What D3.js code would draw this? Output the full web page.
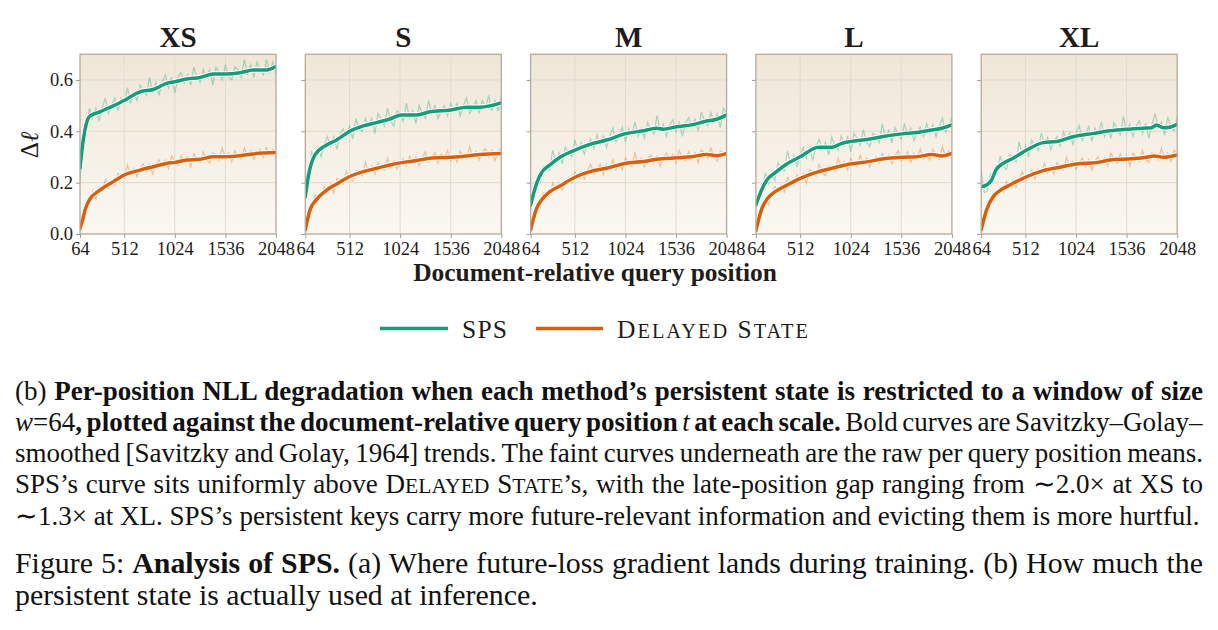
<!DOCTYPE html>
<html><head><meta charset="utf-8">
<script src="https://cdn.jsdelivr.net/npm/d3@7"></script>
<style>
body{margin:0;background:#fff;}
svg{display:block;font-family:"Liberation Serif","Times New Roman",serif;}
</style></head>
<body>
<script>
// ---------- DATA ----------
const panels = ["XS", "S", "M", "L", "XL"];
const seriesNames = ["SPS", "Delayed State"];
const xTicks = [64, 512, 1024, 1536, 2048];
const yTicks = [0.0, 0.2, 0.4, 0.6];
const rawX = d3.range(64, 2049, 32); // query positions of the raw means shown

// smoothed (Savitzky–Golay) trends: positions and values
const xsSpsX = [64, 97, 125, 158, 266, 401, 519, 671, 806, 941, 1024, 1144, 1279, 1413, 1536, 1684, 1819, 1954, 2048];
const xsSpsY = [0.257, 0.366, 0.425, 0.457, 0.476, 0.499, 0.522, 0.554, 0.563, 0.587, 0.593, 0.604, 0.610, 0.623, 0.623, 0.628, 0.639, 0.639, 0.652];
const xsDelX = [64, 91, 115, 158, 266, 401, 512, 671, 806, 941, 1024, 1144, 1279, 1413, 1536, 1684, 1819, 2048];
const xsDelY = [0.022, 0.055, 0.093, 0.132, 0.171, 0.204, 0.230, 0.249, 0.262, 0.275, 0.279, 0.288, 0.291, 0.301, 0.301, 0.305, 0.312, 0.317];

const sSpsX = [64, 100, 162, 280, 381, 509, 651, 786, 921, 1039, 1191, 1326, 1535, 1697, 1832, 1933, 2048];
const sSpsY = [0.145, 0.235, 0.308, 0.347, 0.366, 0.399, 0.421, 0.434, 0.448, 0.464, 0.464, 0.476, 0.483, 0.494, 0.494, 0.499, 0.512];
const sDelX = [64, 111, 179, 280, 381, 509, 651, 786, 921, 1039, 1191, 1326, 1535, 1697, 1832, 2048];
const sDelY = [0.016, 0.093, 0.135, 0.171, 0.195, 0.223, 0.243, 0.256, 0.269, 0.278, 0.286, 0.295, 0.299, 0.304, 0.310, 0.314];

const mSpsX = [64, 125, 175, 260, 361, 513, 665, 833, 1019, 1204, 1339, 1407, 1542, 1694, 1846, 1947, 2048];
const mSpsY = [0.113, 0.197, 0.239, 0.269, 0.299, 0.327, 0.349, 0.366, 0.390, 0.402, 0.412, 0.408, 0.418, 0.425, 0.440, 0.447, 0.464];
const mDelX = [64, 125, 175, 260, 361, 513, 665, 833, 1019, 1204, 1339, 1542, 1694, 1846, 1947, 2048];
const mDelY = [0.016, 0.100, 0.132, 0.165, 0.187, 0.221, 0.243, 0.256, 0.275, 0.282, 0.291, 0.297, 0.301, 0.310, 0.305, 0.314];

const lSpsX = [64, 125, 175, 260, 361, 513, 699, 833, 935, 1019, 1204, 1339, 1542, 1694, 1846, 1947, 2048];
const lSpsY = [0.113, 0.174, 0.210, 0.239, 0.269, 0.301, 0.338, 0.338, 0.353, 0.360, 0.369, 0.379, 0.390, 0.395, 0.405, 0.412, 0.425];
const lDelX = [64, 125, 175, 260, 361, 513, 699, 833, 1019, 1204, 1339, 1542, 1694, 1846, 1947, 2048];
const lDelY = [0.013, 0.100, 0.135, 0.165, 0.187, 0.217, 0.243, 0.256, 0.273, 0.282, 0.292, 0.299, 0.301, 0.310, 0.304, 0.314];

const xlSpsX = [64, 118, 169, 212, 287, 388, 523, 692, 827, 995, 1198, 1366, 1535, 1703, 1788, 1838, 1906, 1973, 2048];
const xlSpsY = [0.184, 0.191, 0.210, 0.249, 0.275, 0.295, 0.327, 0.356, 0.360, 0.379, 0.392, 0.402, 0.408, 0.412, 0.414, 0.425, 0.414, 0.416, 0.427];
const xlDelX = [64, 118, 185, 253, 354, 523, 692, 861, 1029, 1231, 1366, 1535, 1703, 1822, 1906, 2048];
const xlDelY = [0.016, 0.093, 0.145, 0.169, 0.191, 0.223, 0.247, 0.260, 0.273, 0.278, 0.288, 0.292, 0.297, 0.304, 0.299, 0.308];

// raw per-position means (faint), one value per rawX position
const xsSpsRaw = [0.20,0.38,0.41,0.49,0.45,0.49,0.44,0.49,0.53,0.47, 0.50,0.53,0.48,0.53,0.51,0.57,0.51,0.55,0.52,0.58, 0.56,0.54,0.61,0.55,0.59,0.54,0.59,0.62,0.57,0.61, 0.55,0.61,0.63,0.59,0.62,0.58,0.65,0.61,0.59,0.64, 0.61,0.64,0.58,0.65,0.63,0.60,0.66,0.61,0.60,0.65, 0.64,0.61,0.68,0.62,0.66,0.61,0.67,0.64,0.62,0.68, 0.63,0.67,0.62];
const xsDelRaw = [0.029,0.090,0.091,0.133,0.166,0.135,0.182,0.169,0.212,0.178, 0.207,0.187,0.236,0.223,0.216,0.269,0.231,0.255,0.224,0.256, 0.273,0.241,0.272,0.233,0.271,0.289,0.264,0.288,0.255,0.305, 0.279,0.267,0.305,0.279,0.302,0.261,0.311,0.297,0.277,0.321, 0.289,0.277,0.315,0.308,0.287,0.336,0.294,0.316,0.282,0.324, 0.304,0.291,0.335,0.302,0.325,0.291,0.313,0.328,0.300,0.336, 0.309,0.330,0.296];
const sSpsRaw = [0.15,0.21,0.32,0.30,0.34,0.30,0.35,0.38,0.34,0.38, 0.33,0.39,0.41,0.38,0.42,0.37,0.45,0.41,0.40,0.45, 0.42,0.45,0.39,0.47,0.45,0.42,0.49,0.44,0.42,0.48, 0.47,0.44,0.51,0.45,0.48,0.43,0.50,0.47,0.45,0.52, 0.47,0.50,0.45,0.48,0.50,0.46,0.51,0.48,0.51,0.46, 0.50,0.53,0.47,0.49,0.52,0.47,0.52,0.49,0.54,0.48, 0.52,0.48,0.54];
const sDelRaw = [0.009,0.082,0.082,0.151,0.140,0.137,0.184,0.166,0.195,0.160, 0.217,0.210,0.196,0.245,0.216,0.207,0.246,0.244,0.227,0.280, 0.241,0.265,0.233,0.278,0.260,0.249,0.294,0.262,0.286,0.253, 0.277,0.293,0.266,0.303,0.277,0.300,0.267,0.297,0.320,0.280, 0.295,0.317,0.276,0.311,0.291,0.326,0.285,0.307,0.280,0.323, 0.303,0.290,0.340,0.300,0.322,0.289,0.317,0.332,0.298,0.326, 0.285,0.320,0.335];
const mSpsRaw = [0.093,0.197,0.190,0.197,0.265,0.266,0.248,0.327,0.277,0.316, 0.273,0.339,0.315,0.301,0.367,0.321,0.356,0.311,0.345,0.370, 0.333,0.386,0.349,0.383,0.336,0.380,0.414,0.358,0.382,0.416, 0.360,0.412,0.384,0.437,0.379,0.411,0.373,0.435,0.408,0.390, 0.462,0.400,0.428,0.380,0.423,0.445,0.398,0.439,0.380,0.432, 0.454,0.415,0.448,0.402,0.475,0.438,0.421,0.473,0.435,0.468, 0.414,0.489,0.474];
const mDelRaw = [0.020,0.053,0.116,0.102,0.160,0.151,0.149,0.199,0.171,0.199, 0.171,0.199,0.220,0.199,0.242,0.218,0.244,0.214,0.246,0.271, 0.232,0.248,0.272,0.232,0.270,0.252,0.290,0.251,0.276,0.251, 0.296,0.276,0.263,0.314,0.273,0.295,0.262,0.292,0.308,0.275, 0.305,0.264,0.300,0.315,0.288,0.310,0.276,0.326,0.298,0.285, 0.321,0.294,0.317,0.277,0.328,0.316,0.296,0.336,0.299,0.284, 0.322,0.318,0.300];
const lSpsRaw = [0.113,0.165,0.166,0.239,0.196,0.237,0.208,0.277,0.257,0.246, 0.324,0.270,0.307,0.264,0.311,0.337,0.294,0.340,0.286,0.343, 0.368,0.328,0.358,0.308,0.378,0.343,0.327,0.382,0.345,0.378, 0.320,0.392,0.374,0.345,0.407,0.358,0.340,0.392,0.384,0.357, 0.429,0.371,0.403,0.354,0.416,0.388,0.370,0.431,0.382,0.413, 0.364,0.395,0.417,0.379,0.431,0.393,0.426,0.378,0.420,0.452, 0.397,0.421,0.455];
const lDelRaw = [0.020,0.079,0.089,0.140,0.114,0.160,0.185,0.164,0.192,0.164, 0.219,0.197,0.189,0.231,0.210,0.235,0.198,0.251,0.242,0.225, 0.271,0.239,0.227,0.265,0.261,0.243,0.295,0.257,0.281,0.249, 0.294,0.275,0.262,0.306,0.272,0.295,0.262,0.285,0.301,0.275, 0.313,0.286,0.308,0.274,0.303,0.325,0.285,0.299,0.321,0.279, 0.315,0.294,0.331,0.291,0.314,0.288,0.330,0.307,0.291,0.340, 0.301,0.325,0.293];
const xlSpsRaw = [0.250,0.160,0.170,0.236,0.241,0.233,0.304,0.265,0.251,0.308, 0.304,0.282,0.359,0.307,0.344,0.301,0.366,0.342,0.327,0.393, 0.347,0.377,0.328,0.359,0.380,0.344,0.398,0.362,0.395,0.349, 0.391,0.423,0.365,0.387,0.419,0.361,0.413,0.385,0.437,0.379, 0.411,0.372,0.434,0.405,0.386,0.457,0.398,0.429,0.380,0.420, 0.441,0.392,0.432,0.373,0.425,0.470,0.413,0.437,0.384,0.455, 0.418,0.402,0.457];
const xlDelRaw = [0.010,0.090,0.094,0.140,0.126,0.158,0.184,0.163,0.205,0.184, 0.211,0.182,0.216,0.243,0.207,0.226,0.251,0.214,0.254,0.237, 0.276,0.236,0.260,0.234,0.279,0.260,0.249,0.300,0.261,0.284, 0.252,0.281,0.295,0.261,0.290,0.249,0.285,0.300,0.274,0.297, 0.265,0.316,0.289,0.276,0.312,0.284,0.306,0.265,0.315,0.302, 0.282,0.325,0.291,0.279,0.316,0.311,0.288,0.335,0.293,0.316, 0.283,0.327,0.308];

// ---------- BUILD TABLE ----------
const zipXY = (xs, ys) => xs.map((x, i) => [x, ys[i]]);
const panelData = [
  {name: panels[0], sps: {s: zipXY(xsSpsX, xsSpsY), r: zipXY(rawX, xsSpsRaw)}, del: {s: zipXY(xsDelX, xsDelY), r: zipXY(rawX, xsDelRaw)}},
  {name: panels[1], sps: {s: zipXY(sSpsX, sSpsY),   r: zipXY(rawX, sSpsRaw)},  del: {s: zipXY(sDelX, sDelY),   r: zipXY(rawX, sDelRaw)}},
  {name: panels[2], sps: {s: zipXY(mSpsX, mSpsY),   r: zipXY(rawX, mSpsRaw)},  del: {s: zipXY(mDelX, mDelY),   r: zipXY(rawX, mDelRaw)}},
  {name: panels[3], sps: {s: zipXY(lSpsX, lSpsY),   r: zipXY(rawX, lSpsRaw)},  del: {s: zipXY(lDelX, lDelY),   r: zipXY(rawX, lDelRaw)}},
  {name: panels[4], sps: {s: zipXY(xlSpsX, xlSpsY), r: zipXY(rawX, xlSpsRaw)}, del: {s: zipXY(xlDelX, xlDelY), r: zipXY(rawX, xlDelRaw)}}
];

// ---------- STYLE ----------
const colSPS = "#179c78", colDEL = "#d9600b";
const textCol = "#1f1c1a";
const W = 1218, H = 630;
const plotLeft = 80, plotStep = 225.3, pw = 196, py = 54.3, ph = 179.7;

const svg = d3.select("body").append("svg").attr("width", W).attr("height", H);
const defs = svg.append("defs");
const grad = defs.append("linearGradient").attr("id", "bg").attr("x1", 0).attr("y1", 0).attr("x2", 0).attr("y2", 1);
grad.append("stop").attr("offset", "0%").attr("stop-color", "#efe6d7");
grad.append("stop").attr("offset", "100%").attr("stop-color", "#fbf8f2");

const x = d3.scaleLinear().domain([64, 2048]).range([0, pw]);
const y = d3.scaleLinear().domain([0, 0.7]).range([ph, 0]);
const line = d3.line().x(d => x(d[0])).y(d => y(d[1]));
const smoothLine = d3.line().x(d => x(d[0])).y(d => y(d[1])).curve(d3.curveMonotoneX);

panelData.forEach((p, i) => {
  const g = svg.append("g").attr("transform", `translate(${plotLeft + i * plotStep},${py})`);
  defs.append("clipPath").attr("id", "clip" + i).append("rect").attr("width", pw).attr("height", ph);
  g.append("rect").attr("width", pw).attr("height", ph).attr("fill", "url(#bg)");
  // grid
  g.selectAll(".gx").data(xTicks.slice(1, -1)).join("line")
    .attr("x1", d => x(d)).attr("x2", d => x(d)).attr("y1", 0).attr("y2", ph)
    .attr("stroke", "#e3dace").attr("stroke-width", 1);
  g.selectAll(".gy").data(yTicks.slice(1)).join("line")
    .attr("y1", d => y(d)).attr("y2", d => y(d)).attr("x1", 0).attr("x2", pw)
    .attr("stroke", "#e3dace").attr("stroke-width", 1);
  // axes
  const ya = g.append("g").call(d3.axisLeft(y).tickValues(yTicks).tickSize(4).tickPadding(3)
      .tickFormat(i === 0 ? d3.format(".1f") : () => ""));
  ya.select(".domain").remove();
  ya.selectAll("line").attr("stroke", "#a59c90");
  ya.selectAll("text").attr("font-family", "Liberation Serif, serif").attr("font-size", 18.5).attr("fill", textCol);
  const xa = g.append("g").attr("transform", `translate(0,${ph})`)
    .call(d3.axisBottom(x).tickValues(xTicks).tickSize(4).tickFormat(d3.format("d")));
  xa.select(".domain").remove();
  xa.selectAll("line").attr("stroke", "#a59c90");
  xa.selectAll("text").attr("font-family", "Liberation Serif, serif").attr("font-size", 18.5)
    .attr("fill", textCol).attr("dy", null).attr("y", 20.5);
  // lines
  const lg = g.append("g").attr("clip-path", `url(#clip${i})`);
  [[p.sps, colSPS], [p.del, colDEL]].forEach(([s, c]) => {
    lg.append("path").datum(s.r).attr("d", line).attr("fill", "none")
      .attr("stroke", c).attr("stroke-opacity", 0.34).attr("stroke-width", 1.2);
  });
  [[p.sps, colSPS], [p.del, colDEL]].forEach(([s, c]) => {
    lg.append("path").datum(s.s).attr("d", smoothLine).attr("fill", "none")
      .attr("stroke", "#ffffff").attr("stroke-width", 5.4).attr("stroke-linejoin", "round");
    lg.append("path").datum(s.s).attr("d", smoothLine).attr("fill", "none")
      .attr("stroke", c).attr("stroke-width", 3.5).attr("stroke-linejoin", "round").attr("stroke-linecap", "round");
  });
  // frame
  g.append("rect").attr("width", pw).attr("height", ph).attr("fill", "none")
    .attr("stroke", "#b4aa9c").attr("stroke-width", 1.3);
  // title
  g.append("text").attr("x", pw / 2).attr("y", 47 - py).attr("text-anchor", "middle")
    .attr("font-weight", "bold").attr("font-size", 29).attr("fill", textCol).text(p.name);
});

// y label
const yl = svg.append("text").attr("transform", "translate(38,145) rotate(-90)")
  .attr("text-anchor", "middle").attr("font-size", 25).attr("fill", textCol);
yl.append("tspan").text("Δ");
yl.append("tspan").attr("font-style", "italic").text("ℓ");

// x label
const xl = svg.append("text").attr("x", 595).attr("y", 281).attr("text-anchor", "middle")
  .attr("font-weight", "bold").attr("font-size", 25).attr("fill", textCol).text("Document-relative query position");
{ const w = xl.node().getBBox().width; xl.attr("font-size", 25 * 364 / w); }

// legend
function fitSpacing(t, target) {
  const w = t.node().getBBox().width;
  const n = t.text().length - 1;
  t.attr("letter-spacing", (target - w) / n);
}
const legItems = [
  {c: colSPS, x1: 380, x2: 448, tx: 462, tw: 45, segs: [{t: "SPS"}]},
  {c: colDEL, x1: 536, x2: 603, tx: 617, tw: 191, segs: [{t: "D"}, {t: "ELAYED", sc: 1}, {t: " S"}, {t: "TATE", sc: 1}]}
];
legItems.forEach(it => {
  svg.append("line").attr("x1", it.x1).attr("x2", it.x2).attr("y1", 328.5).attr("y2", 328.5)
    .attr("stroke", it.c).attr("stroke-width", 3.4);
  const t = svg.append("text").attr("x", it.tx).attr("y", 337.5).attr("font-size", 25.5).attr("fill", textCol);
  it.segs.forEach(s => t.append("tspan").attr("font-size", s.sc ? "0.8em" : null).text(s.t));
  fitSpacing(t, it.tw);
});

// captions
const capB = [
  [{t: "(b) "}, {t: "Per-position NLL degradation when each method’s persistent state is restricted to a window of size", b: 1}],
  [{t: "w", i: 1}, {t: "=64"}, {t: ", plotted against the document-relative query position ", b: 1}, {t: "t", i: 1}, {t: " at each scale.", b: 1}, {t: " Bold curves are Savitzky–Golay–"}],
  [{t: "smoothed [Savitzky and Golay, 1964] trends. The faint curves underneath are the raw per query position means."}],
  [{t: "SPS’s curve sits uniformly above D"}, {t: "ELAYED", sc: 1}, {t: " S"}, {t: "TATE", sc: 1}, {t: "’s, with the late-position gap ranging from ∼2.0× at XS to"}],
  [{t: "∼1.3× at XL. SPS’s persistent keys carry more future-relevant information and evicting them is more hurtful."}]
];
const capMain = [
  [{t: "Figure 5: "}, {t: "Analysis of SPS.", b: 1}, {t: " (a) Where future-loss gradient lands during training. (b) How much the"}],
  [{t: "persistent state is actually used at inference."}]
];
function addLine(segs, xx, yy, fs) {
  const t = svg.append("text").attr("x", xx).attr("y", yy).attr("font-size", fs).attr("fill", "#111");
  segs.forEach(s => t.append("tspan")
    .attr("font-weight", s.b ? "bold" : null)
    .attr("font-style", s.i ? "italic" : null)
    .attr("font-size", s.sc ? "0.8em" : null)
    .text(s.t));
  return t;
}
function justify(t, target) {
  const w = t.node().getBBox().width;
  const n = (t.text().match(/ /g) || []).length;
  if (n) t.attr("word-spacing", (target - w) / n);
}
let fsB = 25;
{ const t = addLine(capB[4], 15, 525, fsB); const w = t.node().getBBox().width; fsB = fsB * 1185 / w; t.remove(); }
const bY = [400, 431, 462, 493, 525];
capB.forEach((segs, k) => {
  const t = addLine(segs, 15, bY[k], fsB);
  if (k < 4) justify(t, 1188);
});
let fsM = 28;
{ const t = addLine(capMain[1], 15, 605, fsM); const w = t.node().getBBox().width; fsM = fsM * 523 / w; t.remove(); }
const mY = [573, 605];
capMain.forEach((segs, k) => {
  const t = addLine(segs, 15, mY[k], fsM);
  if (k < 1) justify(t, 1188);
});
</script>
</body></html>
